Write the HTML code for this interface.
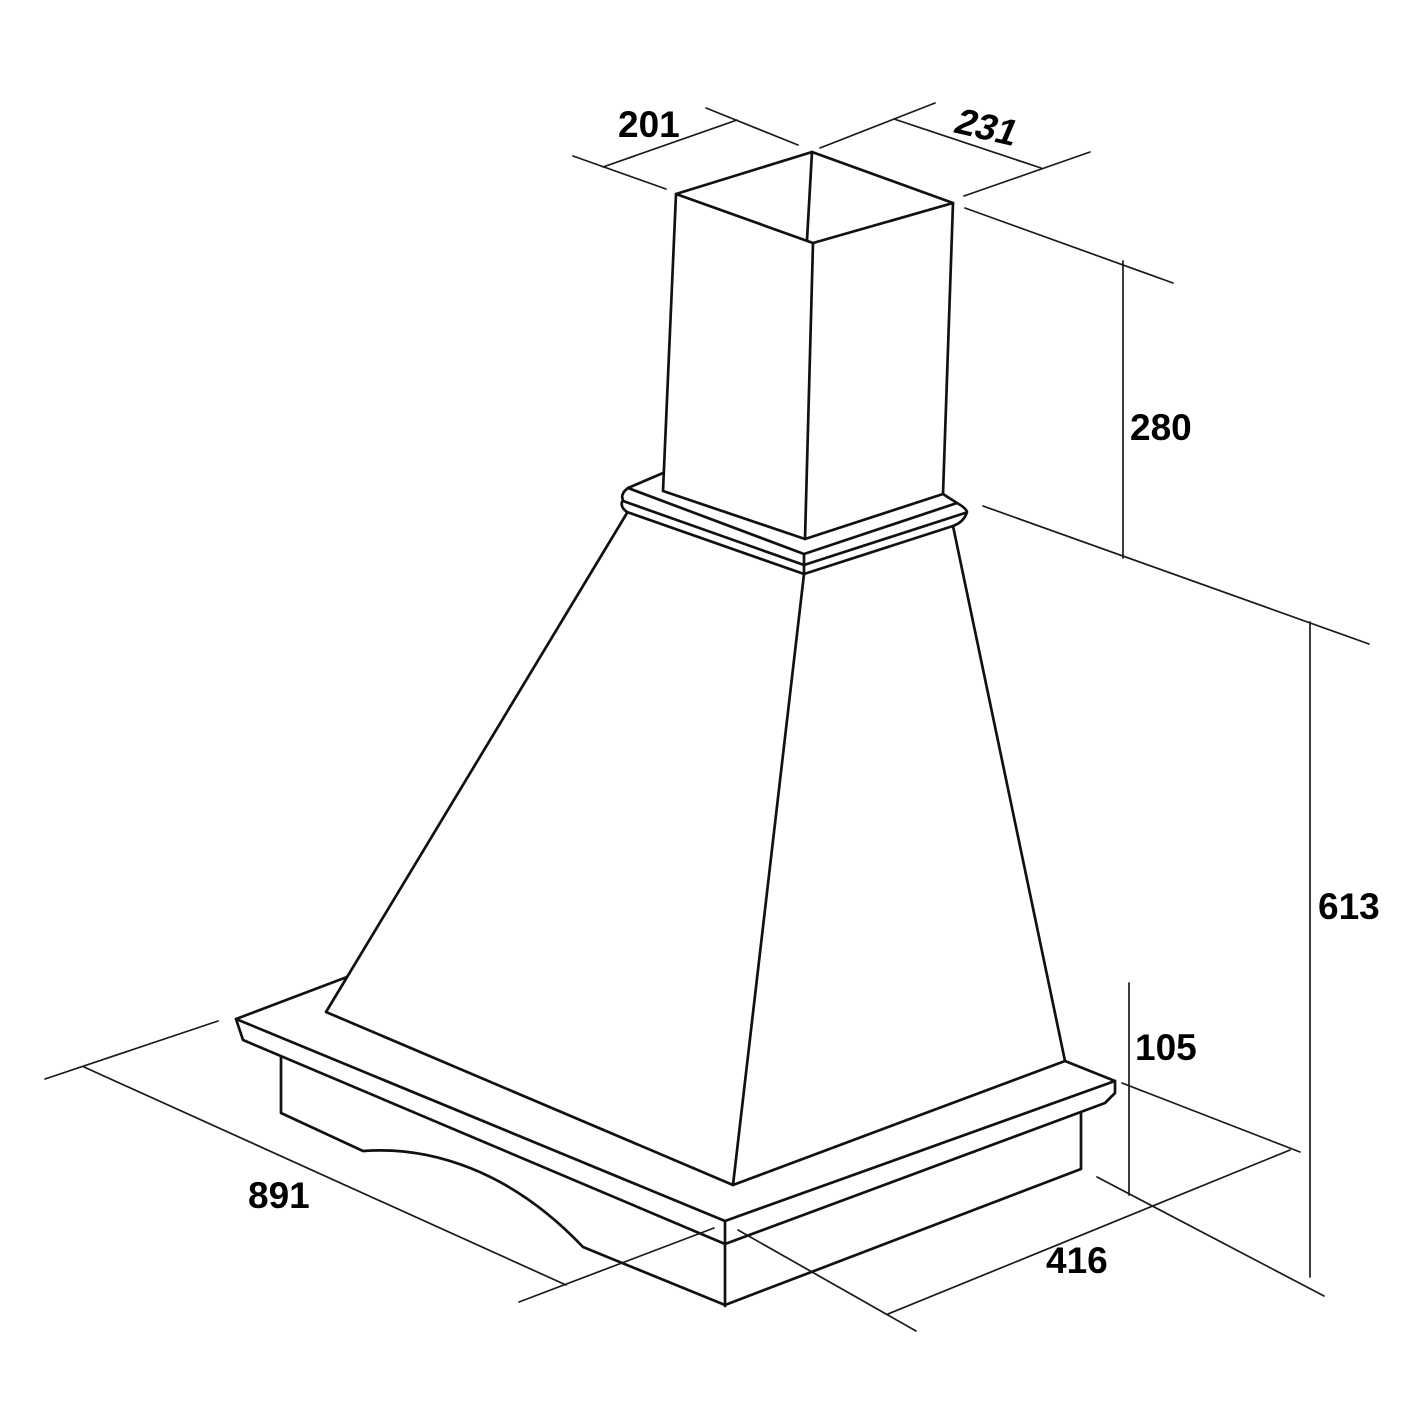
<!DOCTYPE html>
<html>
<head>
<meta charset="utf-8">
<style>
html,body{margin:0;padding:0;background:#fff;}
svg{display:block;}
text{font-family:"Liberation Sans",Arial,sans-serif;font-size:37px;font-weight:bold;fill:#000;}
</style>
</head>
<body>
<svg width="1417" height="1417" viewBox="0 0 1417 1417" xmlns="http://www.w3.org/2000/svg">
<rect width="1417" height="1417" fill="#fff"/>
<g fill="none" stroke="#111" stroke-width="2.7" stroke-linejoin="round" stroke-linecap="round">
  <!-- upper chimney -->
  <path d="M676 194L812 152L953 203L813 243Z"/>
  <path d="M812 152L807 240"/>
  <path d="M676 194L663 491L805 539L943 494L953 203"/>
  <path d="M813 243L805 539"/>
  <!-- collar -->
  <path d="M663 473L628 488L804 554L957 503"/>
  <path d="M943 494L957 503Q966 508 967 512Q964 522 953 526L804 574L627 512Q619 506 623 500Q620 494 628 488"/>
  <path d="M623 501L804 565L965 513"/>
  <path d="M804 554V574"/>
  <!-- lower chimney -->
  <path d="M627 513L326 1012L733 1185L1065 1061L953 526"/>
  <path d="M804 574L733 1185"/>
  <!-- shelf -->
  <path d="M347 977L236 1019L243 1040L725 1244L1105 1103L1115 1093V1081L1065 1061"/>
  <path d="M236 1019L725 1221L1115 1081"/>
  <path d="M725 1221V1306"/>
  <!-- valance -->
  <path d="M281 1057V1113L363 1151C430 1146 510 1170 583 1247L725 1305L1081 1169V1113"/>
</g>
<g fill="none" stroke="#1a1a1a" stroke-width="1.7" stroke-linecap="round">
  <!-- 201 -->
  <path d="M573 156L666 189M706 108L798 145M603 167L737 120"/>
  <!-- 231 -->
  <path d="M820 148L935 103M894 119L1041 168M964 196L1090 152"/>
  <!-- 280 -->
  <path d="M965 208L1173 283M1123 261V558M983 506L1369 644"/>
  <!-- 613 -->
  <path d="M1310 622V1277M1097 1177L1324 1296"/>
  <!-- 105 -->
  <path d="M1129 983V1195M1122 1083L1300 1152"/>
  <!-- 416 -->
  <path d="M888 1314L1290 1150M738 1230L916 1331"/>
  <!-- 891 -->
  <path d="M84 1067L566 1285M45 1079L218 1021M519 1302L714 1228"/>
</g>
<text x="618" y="137">201</text>
<text transform="translate(952 132) rotate(13) skewX(-10)">231</text>
<text x="1130" y="440">280</text>
<text x="1318" y="919">613</text>
<text x="1135" y="1060">105</text>
<text x="1046" y="1273">416</text>
<text x="248" y="1208">891</text>
</svg>
</body>
</html>
